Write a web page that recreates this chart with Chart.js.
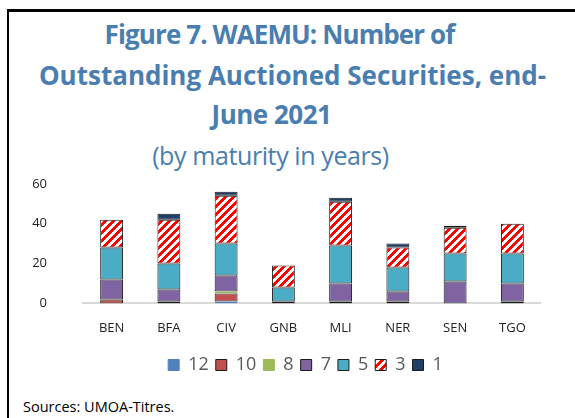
<!DOCTYPE html>
<html>
<head>
<meta charset="utf-8">
<script src="https://cdn.jsdelivr.net/npm/chart.js@4"></script>
<style>
  html, body { margin: 0; padding: 0; background: #fff; }
  body { width: 575px; height: 418px; position: relative; overflow: hidden; font-family: "Open Sans", sans-serif; }
  #frame { position: absolute; left: 7px; top: 9px; width: 700px; height: 600px; border-left: 2px solid #000; border-top: 3px solid #000; }
  .title { position: absolute; left: 0; width: 575px; text-align: center; color: #4A7EB0; font-weight: bold; font-size: 26px; line-height: 40px; white-space: nowrap; }
  #sub { position: absolute; left: -17px; width: 575px; text-align: center; color: #4A7EB0; font-size: 25px; letter-spacing: -0.4px; line-height: 40px; }
  #src { position: absolute; left: 23px; top: 397px; font-size: 14.5px; color: #000; }
  #wrap { position: absolute; left: 10px; top: 170px; }
  canvas { display: block; }
</style>
</head>
<body>
<div id="frame"></div>
<div class="title" style="top:14px; left:-8px; letter-spacing:-0.9px">Figure 7. WAEMU: Number of</div>
<div class="title" style="top:55px; left:5px">Outstanding Auctioned Securities, end-</div>
<div class="title" style="top:94px; left:-16px; letter-spacing:-0.5px">June 2021</div>
<div id="sub" style="top:135px">(by maturity in years)</div>
<div id="wrap"><canvas id="chart" width="531" height="214"></canvas></div>
<div id="src">Sources: UMOA-Titres.</div>
<script>
// Données
const pays = ["BEN", "BFA", "CIV", "GNB", "MLI", "NER", "SEN", "TGO"];
const ans12 = [0, 0, 1, 0, 0, 0, 0, 0];
const ans10 = [2, 1, 4, 0, 1, 1, 0, 1];
const ans8 = [0, 0, 1, 0, 0, 0, 0, 0];
const ans7 = [10, 6, 8, 1, 9, 5, 11, 9];
const ans5 = [16, 13, 16, 7, 19, 12, 14, 15];
const ans3 = [14, 22, 24, 11, 22, 10, 13, 15];
const ans1 = [0, 3, 2, 0, 2, 2, 1, 0];
const yTicks = [0, 20, 40, 60];

// motif hachuré rouge / blanc (diagonale montante)
function makeHatch() {
    const c = document.createElement("canvas");
    c.width = 8; c.height = 8;
    const g = c.getContext("2d");
    g.fillStyle = "#fff";
    g.fillRect(0, 0, 8, 8);
    g.fillStyle = "#FF0000";
    for (let x = 0; x < 8; x++) {
        for (let y = 0; y < 8; y++) {
            if ((x + y) % 8 < 4) g.fillRect(x, y, 1, 1);
        }
    }
    return g.createPattern(c, "repeat");
}

const hatch = makeHatch();

function serie(label, data, color, border) {
    return {
        label: label,
        data: data,
        backgroundColor: color,
        borderColor: border,
        borderWidth: 1,
        borderSkipped: false,
        barPercentage: 0.8,
        categoryPercentage: 0.5
    };
}

// décaler un peu la légende vers la droite, comme dans l'original
const legendShift = {
    id: "legendShift",
    afterLayout(chart) {
        chart.legend.left += 25;
        chart.legend.right += 25;
    }
};

const ctx = document.getElementById("chart");
new Chart(ctx, {
    type: "bar",
    data: {
        labels: pays,
        datasets: [
            serie("12", ans12, "#4F81BD", "#4F81BD"),
            serie("10", ans10, "#C0504D", "#1a1a1a"),
            serie("8", ans8, "#9BBB59", "#9BBB59"),
            serie("7", ans7, "#8064A2", "#1a1a1a"),
            serie("5", ans5, "#4BACC6", "#1a1a1a"),
            serie("3", ans3, hatch, "#1a1a1a"),
            serie("1", ans1, "#1F3F66", "#1a1a1a")
        ]
    },
    plugins: [legendShift],
    options: {
        responsive: false,
        animation: false,
        devicePixelRatio: 1,
        layout: { padding: { left: 10, right: 0, top: 0, bottom: 0 } },
        plugins: {
            tooltip: { enabled: false },
            legend: {
                position: "bottom",
                labels: {
                    boxWidth: 11,
                    boxHeight: 11,
                    padding: 7,
                    color: "#595959",
                    font: { family: "Open Sans", size: 18 }
                }
            }
        },
        scales: {
            x: {
                stacked: true,
                afterFit: (s) => { s.height = s.height + 9; },
                grid: { display: false, drawTicks: true, tickLength: 13 },
                border: { display: true, color: "#D9D9D9", width: 2 },
                ticks: { color: "#222", padding: 4, font: { family: "Open Sans", size: 13 } }
            },
            y: {
                stacked: true,
                min: 0,
                max: 60,
                afterFit: (s) => { s.width = 63; },
                afterBuildTicks: (s) => { s.ticks = yTicks.map(v => ({ value: v })); },
                grid: { display: false, drawTicks: true, tickLength: 30 },
                border: { display: false },
                ticks: { color: "#222", padding: 6, font: { family: "Open Sans", size: 13 } }
            }
        }
    }
});
</script>
</body>
</html>
